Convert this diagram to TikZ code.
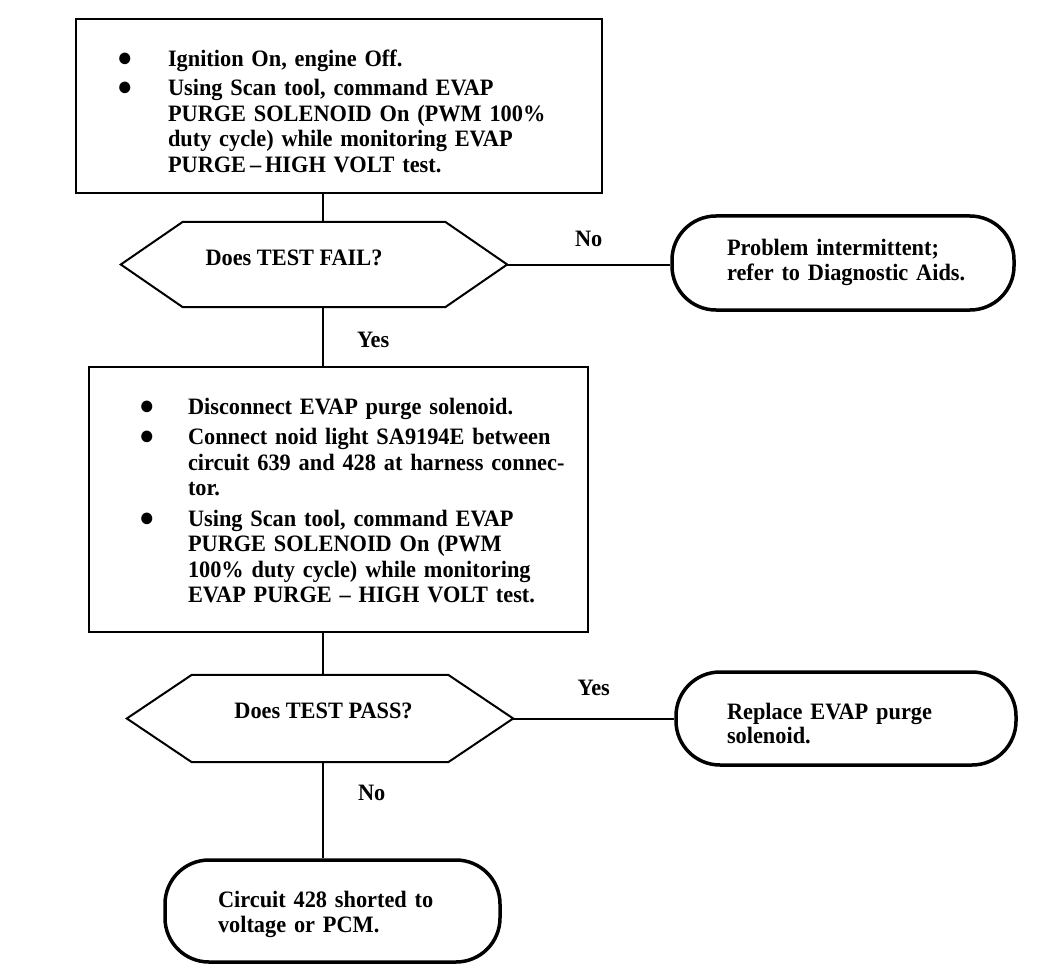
\documentclass[tikz,border=0pt]{standalone}
\usepackage{fontspec}
\setmainfont{Liberation Serif}
\newfontfamily\scanfont{Liberation Serif}[Ligatures=TeX, BoldFeatures={FakeStretch=0.95}]
\usetikzlibrary{positioning}

\newcommand{\bul}{{\fontsize{27}{27}\selectfont ●}}
\newcommand{\hexline}[2]{%
  \draw[link] (#1.west) -- ([xshift=#2]#1.north west) -- ([xshift=-#2]#1.north east)
    -- (#1.east) -- ([xshift=-#2]#1.south east) -- ([xshift=#2]#1.south west) -- cycle;}

\begin{document}
\begin{tikzpicture}[
    x=1pt, y=-1pt,
    every node/.style={font=\scanfont\bfseries\fontsize{23.5}{25.5}\selectfont},
    stepbox/.style={draw, line width=2pt, align=left, inner ysep=0pt},
    hexbox/.style={inner sep=0pt, minimum width=386pt},
    endbox/.style={draw, line width=3.5pt, rounded corners=44pt, align=left, inner ysep=0pt},
    link/.style={line width=2pt},
    answer/.style={inner sep=0pt}
]
\useasboundingbox (0,0) rectangle (1056,976);

\def\spinex{323}
\coordinate (spine) at (\spinex,0);

\node[stepbox, minimum width=526pt, minimum height=174pt, inner xsep=41pt, text width=444pt] (purge) at (339,106) {%
\begin{tabular}{@{}p{51pt}@{}l@{}}
\bul & \rule{0pt}{34pt}Ignition On, engine Off.\\[4pt]
\bul & Using Scan tool, command EVAP\\
 & PURGE SOLENOID On (PWM 100\%\\
 & duty cycle) while monitoring EVAP\\
 & PURGE\,--\,HIGH VOLT test.
\end{tabular}};

\node[hexbox, minimum height=85pt] (fail) at (314,264.5) {};
\hexline{fail}{62pt}
\node[answer] (failq) at (294,258) {Does TEST FAIL?};

\node[endbox, minimum width=342pt, minimum height=94pt, inner xsep=55pt, text width=232pt] (intm) at (843,263) {%
\begin{tabular}{@{}l@{}}
Problem intermittent;\\
refer to Diagnostic Aids.
\end{tabular}};

\node[stepbox, minimum width=499pt, minimum height=265pt, inner xsep=50pt, text width=399pt] (noid) at (338.5,499.5) {%
\begin{tabular}{@{}p{49pt}@{}l@{}}
\bul & \rule{0pt}{26pt}Disconnect EVAP purge solenoid.\\[5pt]
\bul & Connect noid light SA9194E between\\
 & circuit 639 and 428 at harness connec-\\
 & tor.\\[5pt]
\bul & Using Scan tool, command EVAP\\
 & PURGE SOLENOID On (PWM\\
 & 100\% duty cycle) while monitoring\\
 & EVAP PURGE -- HIGH VOLT test.
\end{tabular}};

\node[hexbox, minimum height=87pt] (pass) at (320,718.5) {};
\hexline{pass}{65pt}
\node[answer] (passq) at (323.5,711) {Does TEST PASS?};

\node[endbox, minimum width=340pt, minimum height=93pt, inner xsep=51pt, text width=238pt] (repl) at (846,718.5) {%
\begin{tabular}{@{}l@{}}
\rule{0pt}{34pt}Replace EVAP purge\\[-2pt]
solenoid.
\end{tabular}};

\node[endbox, minimum width=335pt, minimum height=102pt, inner xsep=53pt, text width=229pt] (circ) at (332.5,911) {%
\begin{tabular}{@{}l@{}}
\rule{0pt}{26pt}Circuit 428 shorted to\\
voltage or PCM.
\end{tabular}};

\draw[link] (purge.south -| spine) -- (fail.north -| spine);
\draw[link] (fail.east) -- node[answer, above=17pt] (no1) {No} (fail.east -| intm.west);
\draw[link] (fail.south -| spine) -- node[answer, right=33pt, pos=0.55] (yes1) {Yes} (noid.north -| spine);
\draw[link] (noid.south -| spine) -- (pass.north -| spine);
\draw[link] (pass.east) -- node[answer, above=22pt] (yes2) {Yes} (pass.east -| repl.west);
\draw[link] (pass.south -| spine) -- node[answer, right=34pt, pos=0.32] (no2) {No} (circ.north -| spine);

\end{tikzpicture}
\end{document}
